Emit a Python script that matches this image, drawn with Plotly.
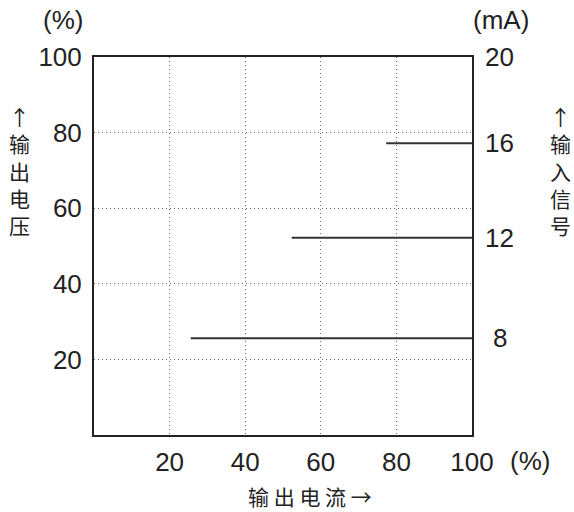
import plotly.graph_objects as go

# Data
input_signal_mA = [8, 12, 16]
output_voltage_pct = [25.6, 52.2, 77.2]
line_start_current_pct = [25.6, 52.3, 77.3]
right_top_label = "20"
x_ticks = [20, 40, 60, 80, 100]
y_ticks = [20, 40, 60, 80, 100]

FONT = "Liberation Sans, Arial, Noto Sans CJK SC"
CJK = "Noto Sans CJK SC, Liberation Sans"
FS = 26
TXT = "#222222"

fig = go.Figure()
for sig, v, x0 in zip(input_signal_mA, output_voltage_pct, line_start_current_pct):
    fig.add_trace(go.Scatter(x=[x0, 100], y=[v, v], mode="lines",
                             line=dict(color="#333333", width=2),
                             showlegend=False, hoverinfo="skip", cliponaxis=False))

grid = dict(showgrid=True, gridcolor="#666666", griddash="1px,3px", gridwidth=1)
fig.update_xaxes(range=[0, 100], tickvals=x_ticks, ticktext=[str(t) for t in x_ticks],
                 showline=True, mirror=True, linecolor="#222222", linewidth=2,
                 zeroline=False, ticks="", ticklabelstandoff=3,
                 tickfont=dict(family=FONT, size=FS, color=TXT), **grid)
fig.update_yaxes(range=[0, 100], tickvals=y_ticks, ticktext=[str(t) for t in y_ticks],
                 showline=True, mirror=True, linecolor="#222222", linewidth=2,
                 zeroline=False, ticks="", ticklabelstandoff=5,
                 tickfont=dict(family=FONT, size=FS, color=TXT), **grid)

ann = []
# right-side labels for input signal
for sig, v in zip(input_signal_mA, output_voltage_pct):
    ann.append(dict(x=1.074, xref="paper", y=v, yref="y", text=str(sig), showarrow=False,
                    xanchor="center", yanchor="middle",
                    font=dict(family=FONT, size=FS, color=TXT)))
ann.append(dict(x=1.074, xref="paper", y=100, yref="y", text=right_top_label, showarrow=False,
                xanchor="center", yanchor="middle",
                font=dict(family=FONT, size=FS, color=TXT)))
# unit labels
ann.append(dict(x=-0.082, xref="paper", y=1.098, yref="paper", text="(%)", showarrow=False,
                xanchor="center", yanchor="middle", font=dict(family=FONT, size=FS, color=TXT)))
ann.append(dict(x=1.077, xref="paper", y=1.098, yref="paper", text="(mA)", showarrow=False,
                xanchor="center", yanchor="middle", font=dict(family=FONT, size=FS, color=TXT)))
ann.append(dict(x=1.153, xref="paper", y=-0.069, yref="paper", text="(%)", showarrow=False,
                xanchor="center", yanchor="middle", font=dict(family=FONT, size=FS, color=TXT)))
# axis titles
ann.append(dict(x=-0.198, xref="paper", y=0.70, yref="paper",
                text="↑<br>输<br>出<br>电<br>压", showarrow=False,
                xanchor="center", yanchor="middle", font=dict(family=CJK, size=21, color=TXT)))
ann.append(dict(x=1.233, xref="paper", y=0.70, yref="paper",
                text="↑<br>输<br>入<br>信<br>号", showarrow=False,
                xanchor="center", yanchor="middle", font=dict(family=CJK, size=21, color=TXT)))
ann.append(dict(x=0.571, xref="paper", y=-0.161, yref="paper",
                text="输 出 电 流 →", showarrow=False,
                xanchor="center", yanchor="middle", font=dict(family=CJK, size=21, color=TXT)))

fig.update_layout(width=574, height=512, margin=dict(l=94, r=102, t=57, b=77),
                  plot_bgcolor="white", paper_bgcolor="white", annotations=ann)

fig.write_html("out.html", config={"displayModeBar": False},
               post_script="document.body.style.margin='0';")
